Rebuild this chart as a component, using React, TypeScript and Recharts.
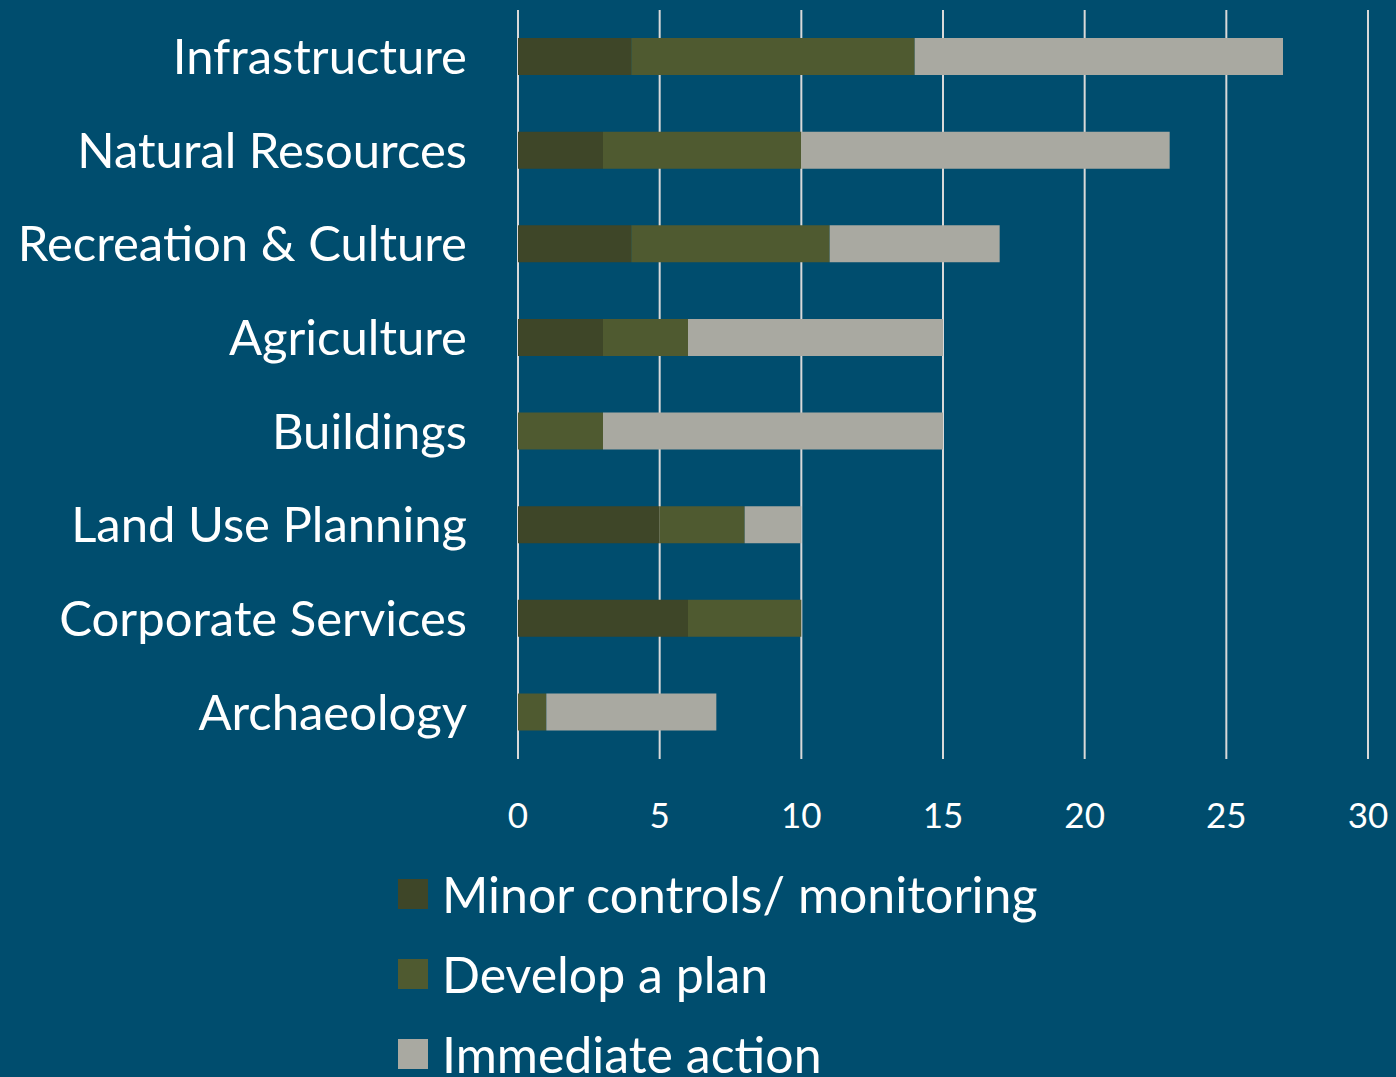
import { BarChart, Bar, XAxis, YAxis, CartesianGrid } from 'recharts'

const categories = [
  'Infrastructure',
  'Natural Resources',
  'Recreation & Culture',
  'Agriculture',
  'Buildings',
  'Land Use Planning',
  'Corporate Services',
  'Archaeology',
]
const minorControls = [4, 3, 4, 3, 0, 5, 6, 0]
const developPlan = [10, 7, 7, 3, 3, 3, 4, 1]
const immediateAction = [13, 13, 6, 9, 12, 2, 0, 6]
const xTicks = [0, 5, 10, 15, 20, 25, 30]

const series = [
  { key: 'minor', name: 'Minor controls/ monitoring', color: '#3e4628' },
  { key: 'plan', name: 'Develop a plan', color: '#4f5a30' },
  { key: 'immediate', name: 'Immediate action', color: '#a9a9a1' },
]

const data = categories.map((name, i) => ({
  name,
  minor: minorControls[i],
  plan: developPlan[i],
  immediate: immediateAction[i],
}))

const font = 'Lato, "Open Sans", sans-serif'

export default function App() {
  return (
    <div
      style={{
        position: 'fixed',
        left: 0,
        top: 0,
        width: 1396,
        height: 1077,
        background: '#004d6e',
        overflow: 'hidden',
        fontFamily: font,
      }}
    >
      <BarChart
        width={1396}
        height={1077}
        data={data}
        layout="vertical"
        margin={{ top: 10, right: 28, left: 0, bottom: 258 }}
      >
        <CartesianGrid horizontal={false} vertical stroke="#d9d9d9" strokeWidth={2} />
        <XAxis
          type="number"
          domain={[0, 30]}
          ticks={xTicks}
          axisLine={false}
          tickLine={false}
          tickSize={0}
          tickMargin={44}
          height={60}
          interval={0}
          tick={{ fill: '#ffffff', fontSize: 35, fontFamily: font }}
        />
        <YAxis
          type="category"
          dataKey="name"
          width={518}
          axisLine={false}
          tickLine={false}
          tickSize={0}
          tickMargin={51}
          interval={0}
          tick={{ fill: '#ffffff', fontSize: 49, fontFamily: font }}
        />
        {series.map((s) => (
          <Bar
            key={s.key}
            dataKey={s.key}
            name={s.name}
            stackId="a"
            fill={s.color}
            barSize={37}
            isAnimationActive={false}
          />
        ))}
      </BarChart>
      <div style={{ position: 'absolute', left: 398, top: 854 }}>
        {series.map((s) => (
          <div
            key={s.key}
            style={{ display: 'flex', alignItems: 'center', height: 80, color: '#ffffff', fontSize: 50 }}
          >
            <span style={{ width: 30, height: 30, background: s.color, marginRight: 14, display: 'inline-block', flexShrink: 0 }} />
            <span>{s.name}</span>
          </div>
        ))}
      </div>
    </div>
  )
}
